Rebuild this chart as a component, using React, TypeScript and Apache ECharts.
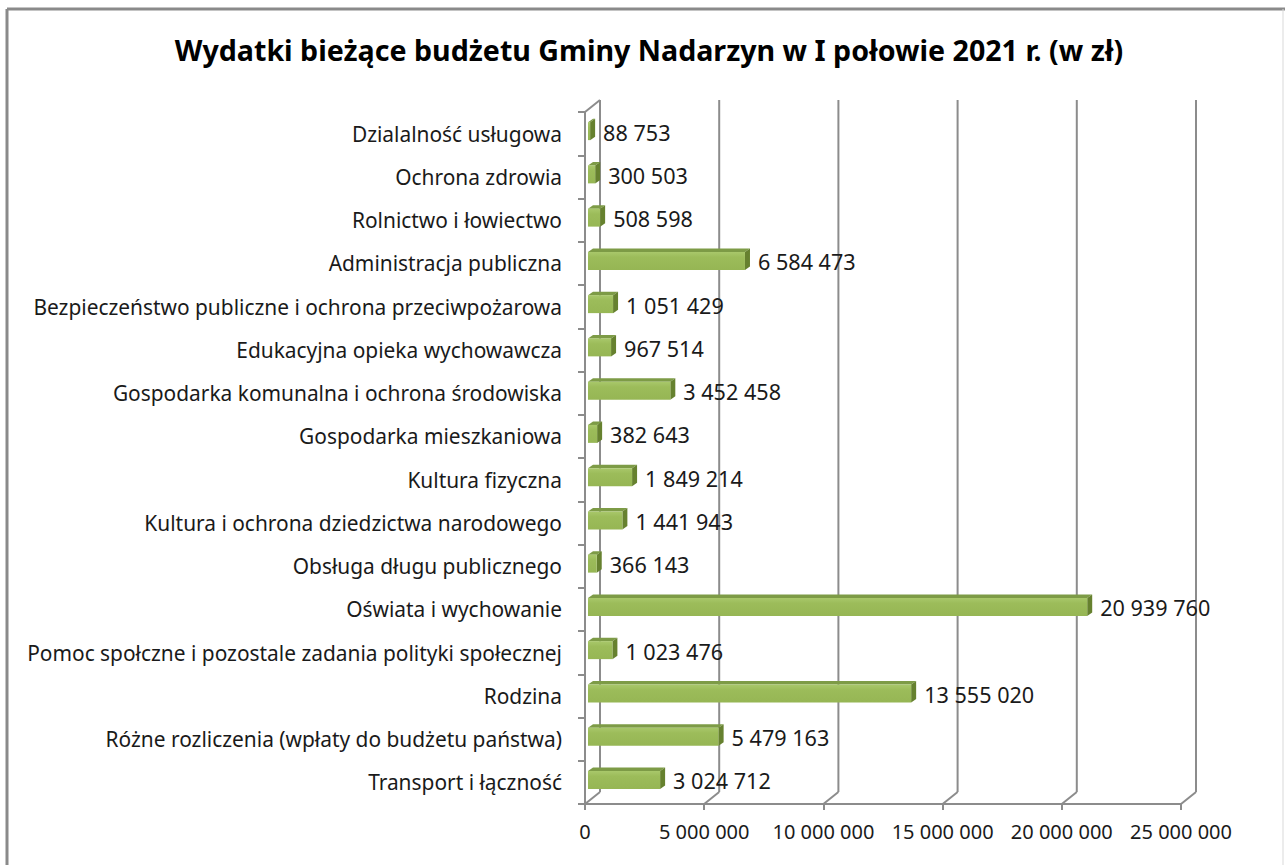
import React, { useEffect, useRef } from "react";
import * as echarts from "echarts";

const titleText = "Wydatki bieżące budżetu Gminy Nadarzyn w I połowie 2021 r. (w zł)";

const categories = [
  "Dzialalność usługowa",
  "Ochrona zdrowia",
  "Rolnictwo i łowiectwo",
  "Administracja publiczna",
  "Bezpieczeństwo publiczne i ochrona przeciwpożarowa",
  "Edukacyjna opieka wychowawcza",
  "Gospodarka komunalna i ochrona środowiska",
  "Gospodarka mieszkaniowa",
  "Kultura fizyczna",
  "Kultura i ochrona dziedzictwa narodowego",
  "Obsługa długu publicznego",
  "Oświata i wychowanie",
  "Pomoc społczne i pozostale zadania polityki społecznej",
  "Rodzina",
  "Różne rozliczenia (wpłaty do budżetu państwa)",
  "Transport i łączność",
];

const values = [
  88753, 300503, 508598, 6584473, 1051429, 967514, 3452458, 382643, 1849214,
  1441943, 366143, 20939760, 1023476, 13555020, 5479163, 3024712,
];

const axisTicks = [0, 5000000, 10000000, 15000000, 20000000, 25000000];

const fmt = (v: number) => String(Math.round(v)).replace(/\B(?=(\d{3})+(?!\d))/g, " ");

const FONT = "'Noto Sans', sans-serif";
const GRID = "#8c8c8c";
const DX = 15;
const DY = -12;

export default function App() {
  const ref = useRef<HTMLDivElement>(null);
  useEffect(() => {
    document.body.style.margin = "0";
    const chart = echarts.init(ref.current!, null, { renderer: "svg" });
    const n = categories.length;
    chart.setOption({
      animation: false,
      backgroundColor: "#ffffff",
      title: {
        text: titleText,
        left: 644,
        top: 30,
        textAlign: "center",
        textStyle: { fontFamily: FONT, fontWeight: "bold", fontSize: 28.6, color: "#000" },
      },
      graphic: [
        { type: "line", shape: { x1: 7, y1: 9, x2: 1285, y2: 9 }, style: { stroke: "#8a8a8a", lineWidth: 3 } },
        { type: "line", shape: { x1: 7, y1: 9, x2: 7, y2: 865 }, style: { stroke: "#8a8a8a", lineWidth: 3 } },
        { type: "line", shape: { x1: 1283, y1: 9, x2: 1283, y2: 865 }, style: { stroke: "#d9d9d9", lineWidth: 1 } },
      ],
      grid: { left: 585, right: 104, top: 112, bottom: 61, containLabel: false },
      xAxis: {
        type: "value",
        min: 0,
        max: 25000000,
        interval: 5000000,
        axisLine: { show: true, lineStyle: { color: GRID, width: 2 } },
        axisTick: { show: true, length: 6, lineStyle: { color: GRID, width: 2 } },
        splitLine: { show: false },
        axisLabel: {
          fontFamily: FONT,
          fontSize: 20,
          color: "#1a1a1a",
          margin: 17,
          formatter: (v: number) => fmt(v),
        },
      },
      yAxis: {
        type: "category",
        data: categories,
        inverse: true,
        axisLine: { show: true, lineStyle: { color: GRID, width: 2 } },
        axisTick: { show: true, length: 7, alignWithLabel: false, lineStyle: { color: GRID, width: 2 } },
        splitLine: { show: false },
        axisLabel: { fontFamily: FONT, fontSize: 20.9, color: "#1a1a1a", margin: 23, padding: [0, 0, 10, 0] },
      },
      series: [
        {
          type: "custom",
          name: "grid3d",
          clip: false,
          z: 1,
          silent: true,
          encode: { x: 0, y: 1 },
          data: axisTicks.map((v) => [v, 0]),
          renderItem: (params: any, api: any) => {
            const v = api.value(0);
            const band = api.size([0, 1])[1];
            const p = api.coord([v, 0]);
            const top = p[1] - band / 2;
            const bottom = api.coord([v, n - 1])[1] + band / 2;
            const x = p[0];
            const children: any[] = [
              { type: "line", shape: { x1: x, y1: bottom, x2: x + DX, y2: bottom + DY }, style: { stroke: GRID, lineWidth: 2 } },
              { type: "line", shape: { x1: x + DX, y1: bottom + DY, x2: x + DX, y2: top + DY }, style: { stroke: GRID, lineWidth: 2 } },
            ];
            if (v === 0) {
              children.push({ type: "line", shape: { x1: x, y1: top, x2: x + DX, y2: top + DY }, style: { stroke: GRID, lineWidth: 2 } });
            }
            return { type: "group", children };
          },
        },
        {
          type: "custom",
          name: "bars",
          clip: false,
          z: 3,
          encode: { x: 0, y: 1 },
          data: values.map((v, i) => [v, i]),
          renderItem: (params: any, api: any) => {
            const v = api.value(0);
            const idx = api.value(1);
            const s = api.coord([0, idx]);
            const e = api.coord([v, idx]);
            const cy = s[1] - 2.5;
            const h = 18;
            const x0 = s[0] + 3;
            const x1 = e[0] + 3;
            const y0 = cy - h / 2;
            const y1 = cy + h / 2;
            const ddx = 5;
            const ddy = -3.5;
            return {
              type: "group",
              children: [
                {
                  type: "polygon",
                  shape: { points: [[x0, y0], [x0 + ddx, y0 + ddy], [x1 + ddx, y0 + ddy], [x1, y0]] },
                  style: { fill: "#7d9b46" },
                },
                {
                  type: "polygon",
                  shape: { points: [[x1, y0], [x1 + ddx, y0 + ddy], [x1 + ddx, y1 + ddy], [x1, y1]] },
                  style: { fill: "#66812f" },
                },
                {
                  type: "rect",
                  shape: { x: x0, y: y0, width: Math.max(x1 - x0, 0.5), height: h },
                  style: {
                    fill: new echarts.graphic.LinearGradient(0, 0, 0, 1, [
                      { offset: 0, color: "#a9c86b" },
                      { offset: 0.3, color: "#9cbc5a" },
                      { offset: 1, color: "#96b654" },
                    ]),
                  },
                },
                {
                  type: "text",
                  x: x1 + ddx + 8,
                  y: cy + 1,
                  style: {
                    text: fmt(v),
                    fontFamily: FONT,
                    fontSize: 21.6,
                    fill: "#1a1a1a",
                    verticalAlign: "middle",
                    align: "left",
                  },
                },
              ],
            };
          },
        },
      ],
    });
    return () => chart.dispose();
  }, []);
  return <div ref={ref} style={{ width: 1285, height: 865 }} />;
}
